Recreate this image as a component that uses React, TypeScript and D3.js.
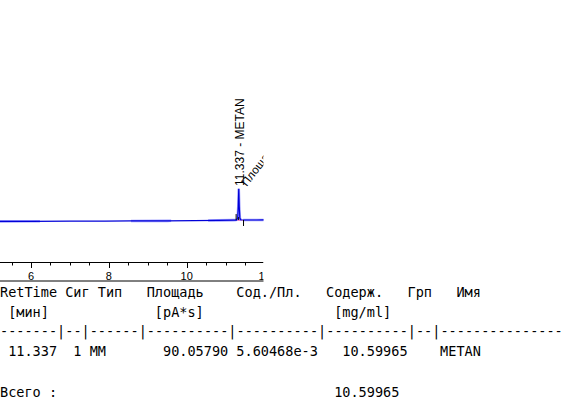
import { useMemo } from "react";
import { line, scaleLinear, range } from "d3";

const W = 569;
const H = 402;
const PLOT_RIGHT = 263.5;
const AXIS_Y = 262.5;

// signal trace (min, pA)
const times = [5.0, 6.0, 7.0, 7.9, 8.6, 9.5, 10.2, 10.8, 11.2, 11.28, 11.31, 11.325, 11.337, 11.35, 11.365, 11.39, 11.45, 11.8, 12.5];
const signal = [12.3, 12.4, 12.6, 12.8, 12.9, 13.1, 13.4, 13.8, 14.1, 14.2, 17, 33, 59, 34, 17, 14.6, 14.3, 14.3, 14.4];

// stretches where the lighter overlay trace is drawn
const overlaySegments: [number, number][] = [
  [5.0, 6.23],
  [8.57, 9.6],
  [10.55, 11.28],
  [11.28, 11.4],
  [11.45, 12.5],
];

const xTickLabels = [6, 8, 10, 12];
const peakStart = 11.27;
const peakEnd = 11.46;
const peakLabel = "11.337 - METAN";
const areaLabel = "Площадь: 90.0579";

// report table: [text, column]
const headerCells: [string, number][] = [
  ["RetTime", 0], ["Сиг", 8], ["Тип", 12], ["Площадь", 18],
  ["Сод./Пл.", 29], ["Содерж.", 40], ["Грп", 50], ["Имя", 56],
];
const unitCells: [string, number][] = [["[мин]", 1], ["[pA*s]", 19], ["[mg/ml]", 41]];
const dashLine = "-------|--|------|----------|----------|----------|--|---------------";
const dataCells: [string, number][] = [
  ["11.337", 1], ["1", 9], ["MM", 11], ["90.05790", 20],
  ["5.60468e-3", 29], ["10.59965", 42], ["METAN", 54],
];
const totalCells: [string, number][] = [["Всего :", 0], ["10.59965", 41]];

const PITCH = 8.15;
const MONO = "'DejaVu Sans Mono', monospace";
const SANS = "'Liberation Sans', Arial, sans-serif";

export default function App() {
  const x = useMemo(() => scaleLinear().domain([6, 10]).range([31, 186.7]), []);
  const y = useMemo(() => scaleLinear().domain([0, 100]).range([230, 160]), []);

  const pts = times.map((t, i) => ({ t, v: signal[i] }));
  const path = line<{ t: number; v: number }>()
    .x((d) => x(d.t))
    .y((d) => y(d.v));

  // value of the trace at t, read along the trace itself
  const valAt = (t: number) => {
    for (let i = 1; i < times.length; i++) {
      if (t <= times[i]) {
        const f = (t - times[i - 1]) / (times[i] - times[i - 1]);
        return signal[i - 1] + f * (signal[i] - signal[i - 1]);
      }
    }
    return signal[signal.length - 1];
  };
  const segPts = (a: number, b: number) => {
    const inner = pts.filter((p) => p.t > a && p.t < b);
    return [{ t: a, v: valAt(a) }, ...inner, { t: b, v: valAt(b) }];
  };

  const minor = range(5, 12.51, 0.5);
  const baseY = y(valAt(peakStart));
  const endY = y(valAt(peakEnd));

  const rowText = (cells: [string, number][], yy: number, key: string) =>
    cells.map(([s, c]) => (
      <text key={key + c} x={c * PITCH} y={yy} fontFamily={MONO} fontSize={13.55} fill="#000" style={{ whiteSpace: "pre" }}>
        {s}
      </text>
    ));

  return (
    <svg width={W} height={H} style={{ position: "absolute", left: 0, top: 0, background: "#fff" }}>
      <defs>
        <clipPath id="plot">
          <rect x={0} y={0} width={PLOT_RIGHT} height={AXIS_Y + 20} />
        </clipPath>
      </defs>
      <g clipPath="url(#plot)">
        {/* integrated area marker */}
        <path
          d={`M${x(peakStart) + 1},${baseY} L${x(11.337)},${baseY - 2} L${x(peakEnd) - 1},${endY} L${x(peakEnd) - 1},${endY + 1} L${x(peakStart) + 1},${baseY + 1} Z`}
          fill="#ff88cc"
        />
        {overlaySegments.map(([a, b], i) => (
          <path key={i} d={path(segPts(a, b)) ?? undefined} fill="none" stroke="#8c8cff" strokeWidth={2.6} strokeOpacity={0.85} />
        ))}
        <path d={path(pts) ?? undefined} fill="none" stroke="#0000d8" strokeWidth={1.2} />

        {/* baseline start / end marks */}
        <line x1={x(peakStart)} x2={x(peakStart)} y1={baseY - 6} y2={baseY} stroke="#000" strokeWidth={1} />
        <line x1={x(peakStart) + 2.5} x2={x(peakStart) + 2.5} y1={baseY - 3} y2={baseY} stroke="#000" strokeWidth={1} />
        <line x1={x(peakEnd)} x2={x(peakEnd)} y1={endY} y2={endY + 6} stroke="#000" strokeWidth={1} />

        <text transform={`translate(${x(11.337) + 5},186) rotate(-90)`} fontFamily={SANS} fontSize={12} fill="#000">
          {peakLabel}
        </text>
        <text transform={`translate(${x(11.337) + 8},187) rotate(-52)`} fontFamily={SANS} fontSize={11.5} fill="#000">
          {areaLabel}
        </text>

        {/* x axis */}
        <line x1={0} x2={PLOT_RIGHT} y1={AXIS_Y} y2={AXIS_Y} stroke="#000" strokeWidth={1} />
        {minor.map((t) => (
          <line
            key={t}
            x1={Math.round(x(t)) + 0.5}
            x2={Math.round(x(t)) + 0.5}
            y1={AXIS_Y}
            y2={AXIS_Y + (t % 2 === 0 ? 5.5 : 3)}
            stroke="#000"
            strokeWidth={1}
          />
        ))}
        {xTickLabels.map((t) => (
          <text key={t} x={x(t)} y={279.5} textAnchor="middle" fontFamily={SANS} fontSize={11} fill="#000">
            {t}
          </text>
        ))}
      </g>

      {/* report table */}
      <line x1={0} x2={PLOT_RIGHT} y1={281} y2={281} stroke="#000" strokeWidth={1} />
      {rowText(headerCells, 296.5, "h")}
      {rowText(unitCells, 316.5, "u")}
      <text x={0} y={335.5} fontFamily={MONO} fontSize={13.55} fill="#000" style={{ whiteSpace: "pre" }}>
        {dashLine}
      </text>
      {rowText(dataCells, 356, "d")}
      {rowText(totalCells, 397, "t")}
    </svg>
  );
}
